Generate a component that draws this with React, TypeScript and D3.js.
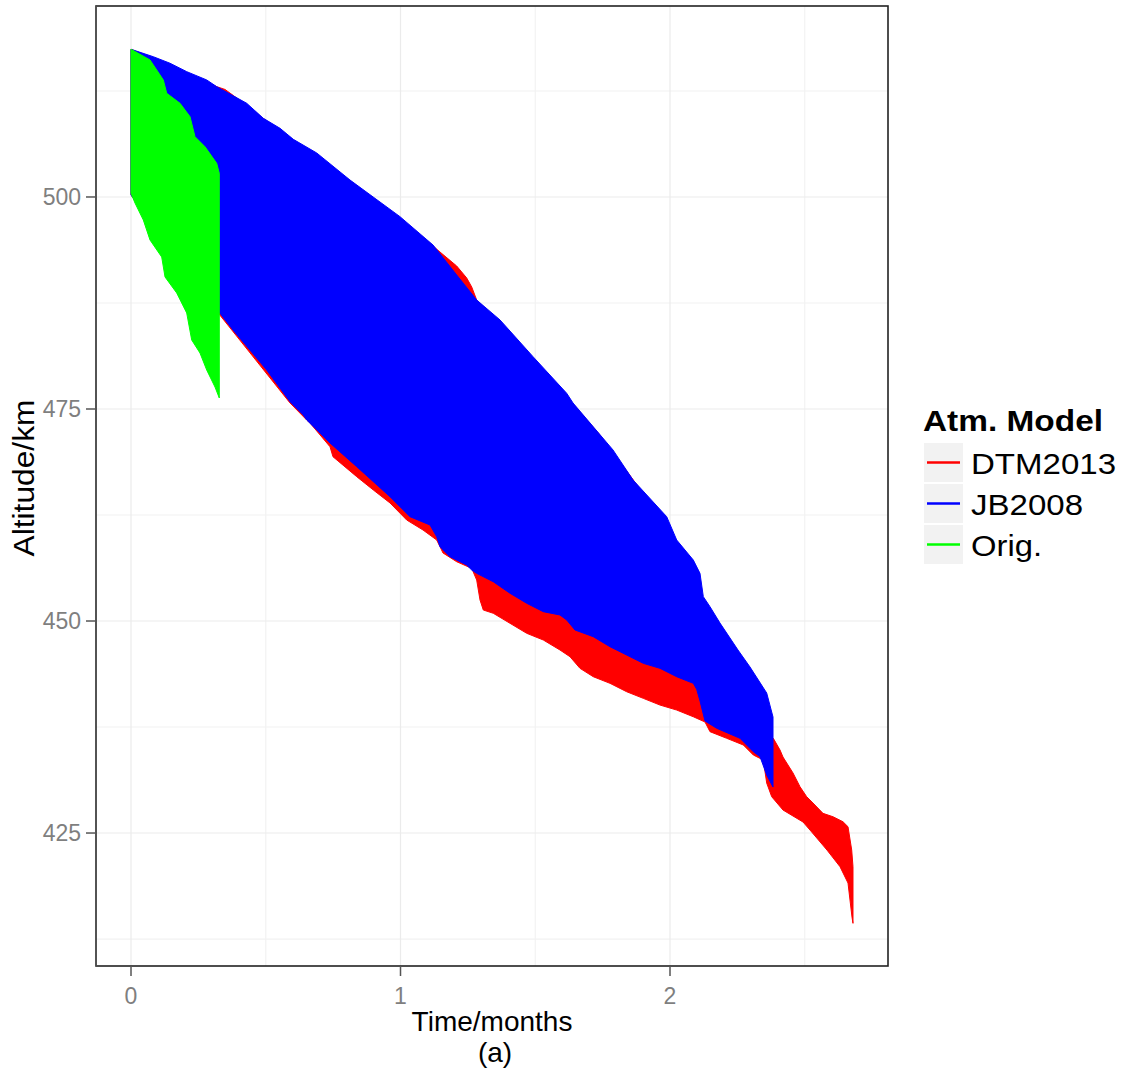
import React from "react";
import * as d3 from "d3";

// ---- Data (time in months, altitude in km) ----
const seriesNames = ["DTM2013", "JB2008", "Orig."];
const seriesColors = ["#FF0000", "#0000FF", "#00FF00"];
const legendLabelWidths = [145, 112, 71];

const xTicks = [0, 1, 2];
const xMinor = [0.5, 1.5, 2.5];
const yTicks = [425, 450, 475, 500];
const yMinor = [412.5, 437.5, 462.5, 487.5, 512.5];

// DTM2013
const dtmUpperT = [0, 0.2067, 0.318, 0.3488, 0.3796, 0.4909, 0.6022, 0.8126, 0.9981, 1.1206, 1.1466, 1.2085, 1.2456, 1.2642, 1.2827, 1.4917, 1.7403, 1.9878, 2.1113, 2.1855, 2.2597, 2.334, 2.3833, 2.4082, 2.4193, 2.4564, 2.4824, 2.5072, 2.5306, 2.5677, 2.6048, 2.6419, 2.6605, 2.6742, 2.679, 2.679];
const dtmUpperAlt = [517.42, 514.68, 513.01, 512.68, 511.97, 509.26, 506.72, 501.89, 497.52, 494.22, 493.51, 491.86, 490.45, 489.39, 487.85, 481.01, 471.93, 461.32, 452.48, 447.76, 441.86, 437.74, 436.17, 434.79, 433.96, 432.08, 430.46, 429.28, 428.54, 427.32, 426.92, 426.33, 425.74, 423.0, 421.03, 414.35];
const dtmLowerT = [0, 0.3265, 0.59, 0.652, 0.6642, 0.7384, 0.7495, 0.8375, 0.8991, 0.961, 1.023, 1.0835, 1.1343, 1.1466, 1.1577, 1.2085, 1.2642, 1.2827, 1.295, 1.3072, 1.3443, 1.4063, 1.4683, 1.5299, 1.5918, 1.6289, 1.666, 1.7154, 1.7774, 1.8393, 1.9009, 1.9629, 2.0249, 2.0865, 2.1299, 2.1484, 2.2104, 2.272, 2.3091, 2.3462, 2.3588, 2.3774, 2.4193, 2.4935, 2.5195, 2.5826, 2.6308, 2.6605, 2.6753, 2.679];
const dtmLowerAlt = [500.24, 486.2, 475.71, 473.7, 473.35, 470.55, 469.37, 467.02, 465.45, 463.92, 461.91, 460.73, 459.55, 458.76, 458.02, 456.99, 456.21, 454.83, 452.48, 451.3, 450.91, 449.73, 448.55, 447.76, 446.58, 445.79, 444.42, 443.43, 442.65, 441.66, 440.88, 440.09, 439.5, 438.71, 438.09, 436.95, 436.17, 435.38, 434.2, 433.61, 430.9, 429.28, 427.71, 426.3, 425.35, 422.99, 421.03, 419.1, 415.09, 414.35];

// JB2008
const jbUpperT = [0, 0.0827, 0.1447, 0.2067, 0.2809, 0.318, 0.4293, 0.4909, 0.5529, 0.6022, 0.689, 0.8126, 0.9981, 1.1206, 1.2085, 1.2827, 1.3692, 1.4917, 1.6167, 1.6401, 1.7885, 1.8627, 1.9878, 2.0249, 2.0865, 2.1113, 2.1236, 2.1484, 2.1855, 2.2523, 2.2968, 2.3588, 2.3822, 2.3822];
const jbUpperAlt = [517.42, 516.54, 515.77, 514.78, 513.8, 513.01, 511.05, 509.28, 508.1, 506.8, 505.19, 502.0, 497.68, 494.34, 490.8, 487.85, 485.5, 481.17, 476.85, 475.71, 470.17, 466.63, 462.3, 459.55, 457.19, 455.62, 452.87, 451.69, 449.76, 446.58, 444.58, 441.51, 438.68, 430.42];
const jbLowerT = [0, 0.3265, 0.3785, 0.5035, 0.59, 0.6393, 0.652, 0.7384, 0.8375, 0.961, 1.0353, 1.1095, 1.1343, 1.1466, 1.1837, 1.2456, 1.2642, 1.2827, 1.3443, 1.4063, 1.4683, 1.5299, 1.5918, 1.6167, 1.6475, 1.7154, 1.7774, 1.8393, 1.9009, 1.9629, 2.0249, 2.0865, 2.099, 2.1113, 2.1299, 2.1733, 2.2597, 2.3091, 2.334, 2.3588, 2.3822];
const jbLowerAlt = [500.24, 486.44, 484.32, 479.6, 475.86, 474.29, 473.7, 470.99, 468.2, 464.66, 462.3, 461.32, 459.94, 458.76, 457.58, 456.6, 456.01, 455.62, 454.63, 453.27, 452.09, 451.1, 450.71, 450.12, 448.94, 448.15, 446.97, 445.99, 445.01, 444.42, 443.43, 442.65, 441.95, 440.57, 438.21, 437.35, 436.17, 434.59, 434.0, 431.84, 430.42];

// Orig.
const origUpperT = [0, 0.0705, 0.0954, 0.1199, 0.1325, 0.1818, 0.2189, 0.2375, 0.2746, 0.318, 0.3276];
const origUpperAlt = [517.42, 516.16, 514.98, 513.8, 512.23, 511.05, 509.47, 507.11, 505.93, 503.97, 502.79];
const origLowerT = [0, 0.0148, 0.0456, 0.0705, 0.1139, 0.1262, 0.1696, 0.2067, 0.2252, 0.256, 0.2809, 0.3117, 0.3276];
const origLowerAlt = [500.44, 499.29, 497.29, 494.93, 492.92, 490.57, 488.68, 486.32, 483.14, 481.6, 479.6, 477.59, 476.3];

const ribbons = [
  { upT: dtmUpperT, upA: dtmUpperAlt, loT: dtmLowerT, loA: dtmLowerAlt },
  { upT: jbUpperT, upA: jbUpperAlt, loT: jbLowerT, loA: jbLowerAlt },
  { upT: origUpperT, upA: origUpperAlt, loT: origLowerT, loA: origLowerAlt },
];

const W = 1129;
const H = 1076;
const P = { left: 96, right: 888, top: 6, bottom: 966 };

export default function App() {
  const x = d3.scaleLinear().domain([-0.1299, 2.8089]).range([P.left, P.right]);
  const y = d3.scaleLinear().domain([409.32, 522.52]).range([P.bottom, P.top]);
  const line = d3
    .line<[number, number]>()
    .x((d) => x(d[0]))
    .y((d) => y(d[1]));

  const paths = ribbons.map((r) => {
    const up: [number, number][] = r.upT.map((t, i) => [t, r.upA[i]]);
    const lo: [number, number][] = r.loT.map((t, i) => [t, r.loA[i]]).reverse() as [number, number][];
    return line([...up, ...lo]) + "Z";
  });

  const font = "'Liberation Sans', Arial, Helvetica, sans-serif";
  const legendY = [443, 484, 525];

  return (
    <svg width={W} height={H} style={{ position: "absolute", left: 0, top: 0, background: "#fff" }} fontFamily={font}>
      <defs>
        <clipPath id="panel">
          <rect x={P.left} y={P.top} width={P.right - P.left} height={P.bottom - P.top} />
        </clipPath>
      </defs>
      {/* grid */}
      {xMinor.map((v) => (
        <line key={"xm" + v} x1={x(v)} x2={x(v)} y1={P.top} y2={P.bottom} stroke="#F2F2F2" strokeWidth={1.2} />
      ))}
      {yMinor.map((v) => (
        <line key={"ym" + v} y1={y(v)} y2={y(v)} x1={P.left} x2={P.right} stroke="#F2F2F2" strokeWidth={1.2} />
      ))}
      {xTicks.map((v) => (
        <line key={"xg" + v} x1={x(v)} x2={x(v)} y1={P.top} y2={P.bottom} stroke="#EBEBEB" strokeWidth={1.2} />
      ))}
      {yTicks.map((v) => (
        <line key={"yg" + v} y1={y(v)} y2={y(v)} x1={P.left} x2={P.right} stroke="#EBEBEB" strokeWidth={1.2} />
      ))}
      {/* ribbons */}
      <g clipPath="url(#panel)">
        {paths.map((p, i) => (
          <path key={i} d={p} fill={seriesColors[i]} stroke={seriesColors[i]} strokeWidth={1} strokeLinejoin="round" />
        ))}
      </g>
      {/* border */}
      <rect x={P.left} y={P.top} width={P.right - P.left} height={P.bottom - P.top} fill="none" stroke="#222" strokeWidth={1.6} />
      <line x1={P.left} x2={P.left} y1={P.top} y2={P.bottom} stroke="#555" strokeWidth={1.6} />
      {/* x axis */}
      {xTicks.map((v) => (
        <g key={"xt" + v}>
          <line x1={x(v)} x2={x(v)} y1={P.bottom} y2={P.bottom + 10} stroke="#555" strokeWidth={1.5} />
          <text x={x(v)} y={1004} textAnchor="middle" fontSize={23} fill="#7F7F7F">
            {v}
          </text>
        </g>
      ))}
      {/* y axis */}
      {yTicks.map((v) => (
        <g key={"yt" + v}>
          <line x1={P.left - 10} x2={P.left} y1={y(v)} y2={y(v)} stroke="#555" strokeWidth={1.5} />
          <text x={81} y={y(v) + 8} textAnchor="end" fontSize={23} fill="#7F7F7F">
            {v}
          </text>
        </g>
      ))}
      <text x={492} y={1031} textAnchor="middle" fontSize={28} fill="#000">
        Time/months
      </text>
      <text x={495} y={1062} textAnchor="middle" fontSize={28} fill="#000">
        (a)
      </text>
      <text
        transform={`translate(34,${478}) rotate(-90)`}
        textAnchor="middle"
        fontSize={29}
        fill="#000"
        textLength={157}
        lengthAdjust="spacingAndGlyphs"
      >
        Altitude/km
      </text>
      {/* legend */}
      <text x={923} y={431} fontSize={29} fontWeight="bold" fill="#000" textLength={180} lengthAdjust="spacingAndGlyphs">
        Atm. Model
      </text>
      {seriesNames.map((n, i) => (
        <g key={n}>
          <rect x={924} y={legendY[i]} width={39} height={39} fill="#F2F2F2" />
          <line x1={927} x2={960} y1={legendY[i] + 19.5} y2={legendY[i] + 19.5} stroke={seriesColors[i]} strokeWidth={2.5} />
          <text
            x={971}
            y={legendY[i] + 31}
            fontSize={29}
            fill="#000"
            textLength={legendLabelWidths[i]}
            lengthAdjust="spacingAndGlyphs"
          >
            {n}
          </text>
        </g>
      ))}
    </svg>
  );
}
